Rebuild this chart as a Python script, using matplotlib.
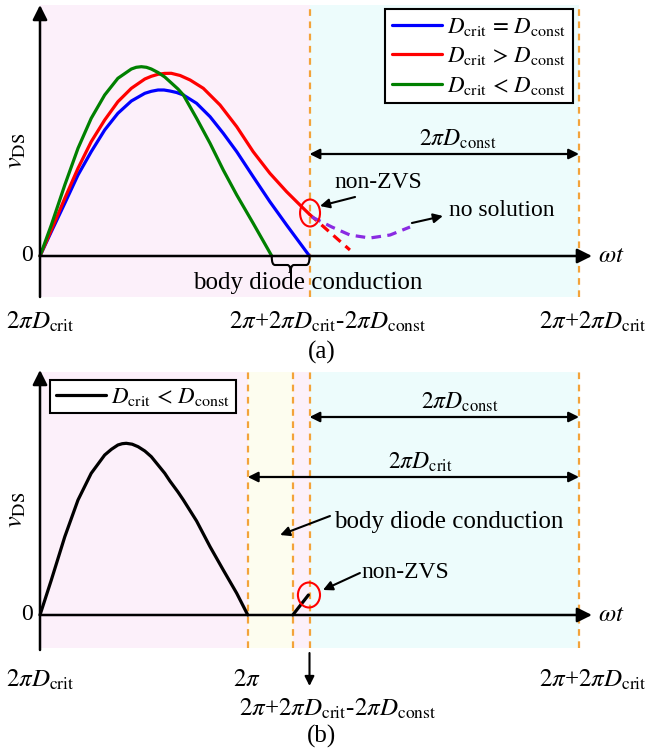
import matplotlib.pyplot as plt
import numpy as np
from matplotlib.patches import Ellipse, PathPatch
from matplotlib.path import Path

plt.rcParams['font.family'] = ['Liberation Serif', 'DejaVu Serif']
plt.rcParams['mathtext.fontset'] = 'stix'

# x: 0 = 2*pi*D_crit, 1 = 2*pi + 2*pi*D_crit - 2*pi*D_const, 2 = 2*pi + 2*pi*D_crit
# (a) three v_DS waveforms
blue_x = [0, .042, .092, .141, .190, .240, .289, .339, .389, .413, .438, .460, .482, .507, .532,
          .581, .631, .680, .730, .791, .853, .915, 1.0]
blue_y = [0, .243, .527, .81, 1.043, 1.26, 1.427, 1.55, 1.627, 1.647, 1.66, 1.66, 1.65, 1.635, 1.61,
          1.527, 1.393, 1.227, 1.043, .793, .543, .31, 0]
red_x = [0, .042, .092, .141, .190, .240, .289, .339, .389, .413, .438, .462, .487, .520, .557,
         .606, .668, .730, .791, .853, .915, .977, 1.0]
red_y = [0, .26, .577, .877, 1.143, 1.36, 1.543, 1.677, 1.77, 1.797, 1.817, 1.826, 1.827, 1.805, 1.76,
         1.677, 1.51, 1.293, 1.043, .827, .643, .477, .417]
green_x = [0, .042, .092, .141, .190, .240, .289, .339, .357, .376, .395, .413, .438, .463, .512,
           .532, .581, .631, .680, .730, .791, .860]
green_y = [0, .31, .71, 1.077, 1.377, 1.61, 1.777, 1.87, 1.887, 1.893, 1.887, 1.87, 1.835, 1.79, 1.67,
           1.61, 1.377, 1.127, .86, .61, .327, 0]
red_dash_x = [1.0, 1.15]
red_dash_y = [.417, .06]
purple_x = [1.009, 1.083, 1.150, 1.224, 1.299, 1.373]
purple_y = [.39, .29, .21, .18, .21, .29]

# (b) waveform for D_crit < D_const
black_x = [0, .042, .092, .141, .190, .240, .265, .289, .305, .320, .342, .364, .389, .413, .463,
           .482, .512, .532, .581, .631, .680, .730, .771]
black_y = [0, .35, .783, 1.15, 1.417, 1.6, 1.657, 1.7, 1.713, 1.717, 1.708, 1.683, 1.64, 1.583, 1.417,
           1.34, 1.23, 1.15, .94, .683, .45, .217, 0]
rise_x = [.938, .996]
rise_y = [0, .2]

a_edges = [0, 1.0, 2.0]
a_colors = ['#fcf0fa', '#edfcfc']
b_edges = [0, .771, .938, 1.0, 2.0]
b_colors = ['#fcf0fa', '#fdfdef', '#fcf0fa', '#edfcfc']

W, H = 647, 749
fig = plt.figure(figsize=(W / 100, H / 100), dpi=100)
ax1 = fig.add_axes([0, 1 - 300 / H, 1, 300 / H])
ax2 = fig.add_axes([0, 0, 1, 389 / H])
ax1.set_xlim(-40 / 269.5, 607 / 269.5)
ax1.set_ylim(-0.44, 2.56)
ax2.set_xlim(-40 / 269.5, 607 / 269.5)
ax2.set_ylim(-1.34, 2.55)
for ax in (ax1, ax2):
    ax.axis('off')

orange = '#f3a33a'
arrow_kw = dict(arrowstyle='-|>', color='k', lw=1.8, mutation_scale=22, shrinkA=0, shrinkB=0)
dbl_kw = dict(arrowstyle='<|-|>', color='k', lw=1.6, mutation_scale=15, shrinkA=0, shrinkB=0)
thin_kw = dict(arrowstyle='-|>', color='k', lw=1.5, mutation_scale=14, shrinkA=0, shrinkB=0)
fs = 17


def shade(ax, edges, colors, y0, y1):
    for i, c in enumerate(colors):
        ax.fill_between([edges[i], edges[i + 1]], y0, y1, color=c, lw=0, zorder=0)
    for e in edges[1:]:
        ax.plot([e, e], [y0, y1], color=orange, lw=1.6, ls=(0, (3, 2.5)), zorder=1)


def axes_arrows(ax, ybot, ytop):
    ax.annotate('', xy=(0, ytop), xytext=(0, ybot), arrowprops=arrow_kw, zorder=5)
    ax.annotate('', xy=(2.048, 0), xytext=(0, 0), arrowprops=arrow_kw, zorder=5)
    ax.text(-0.025, 0, '0', fontsize=fs, ha='right', va='center')
    ax.text(2.07, 0, r'$\omega t$', fontsize=fs + 1, ha='left', va='center')
    ax.text(-0.085, (ytop + ybot) / 2, r'$v_{\rm DS}$', fontsize=fs + 2, rotation=90,
            ha='center', va='center')


line_kw = dict(lw=2.3, zorder=3, solid_joinstyle='round', solid_capstyle='round')
leg_kw = dict(fancybox=False, edgecolor='k', framealpha=1, fontsize=16.5, handlelength=2.2,
              handletextpad=0.2, borderaxespad=0)

# ---------------- (a) ----------------
shade(ax1, a_edges, a_colors, -0.41, 2.51)
l1, = ax1.plot(blue_x, blue_y, color='#0000ff', label=r'$D_{\rm crit}\,=\,D_{\rm const}$', **line_kw)
l2, = ax1.plot(red_x, red_y, color='#ff0000', label=r'$D_{\rm crit}\,>\,D_{\rm const}$', **line_kw)
l3, = ax1.plot(green_x, green_y, color='#008000', label=r'$D_{\rm crit}\,<\,D_{\rm const}$', **line_kw)
ax1.plot(red_dash_x, red_dash_y, color='#ff0000', lw=2.3, ls=(0, (3, 2)), zorder=3)
ax1.plot(purple_x, purple_y, color='#8a2be2', lw=2.3, ls=(0, (3, 2)), zorder=3)
axes_arrows(ax1, -0.41, 2.51)

leg = ax1.legend(handles=[l1, l2, l3], loc='upper right', bbox_to_anchor=(573 / W, 1 - 9 / 300),
                 borderpad=0.3, labelspacing=0.32, **leg_kw)
leg.get_frame().set_linewidth(1.5)

ax1.annotate('', xy=(2.0, 1.02), xytext=(1.0, 1.02), arrowprops=dbl_kw)
ax1.text(1.551, 1.17, r'$2\pi D_{\rm const}$', fontsize=fs, ha='center', va='center')

ax1.add_patch(Ellipse((1.002, 0.43), 0.074, 0.27, fill=False, ec='#ff0000', lw=1.5, zorder=4))
ax1.text(1.254, 0.74, 'non-ZVS', fontsize=fs, ha='center', va='center')
ax1.annotate('', xy=(1.039, 0.50), xytext=(1.169, 0.59), arrowprops=thin_kw)
ax1.text(1.518, 0.46, 'no solution', fontsize=fs, ha='left', va='center')
ax1.annotate('', xy=(1.495, 0.40), xytext=(1.380, 0.33), arrowprops=thin_kw)

# curly brace under the body-diode interval
x0, x1, yb, hb = green_x[-1], 1.0, -0.01, 0.16
xm, q = (x0 + x1) / 2, 0.012
verts = [(x0, yb), (x0, yb - hb / 2), (x0 + q, yb - hb / 2), (xm - q, yb - hb / 2),
         (xm, yb - hb / 2), (xm, yb - hb), (xm, yb - hb / 2), (xm + q, yb - hb / 2),
         (x1 - q, yb - hb / 2), (x1, yb - hb / 2), (x1, yb)]
codes = [Path.MOVETO, Path.CURVE3, Path.CURVE3, Path.LINETO, Path.CURVE3, Path.CURVE3,
         Path.CURVE3, Path.CURVE3, Path.LINETO, Path.CURVE3, Path.CURVE3]
ax1.add_patch(PathPatch(Path(verts, codes), fill=False, lw=1.5, ec='k', zorder=4))
ax1.text(0.994, -0.27, 'body diode conduction', fontsize=18, ha='center', va='center')

ax1.text(0.0, -0.66, r'$2\pi D_{\rm crit}$', fontsize=fs + 1, ha='center', va='center')
ax1.text(1.069, -0.66, r'$2\pi$+$2\pi D_{\rm crit}$-$2\pi D_{\rm const}$', fontsize=fs + 1,
         ha='center', va='center')
ax1.text(2.05, -0.66, r'$2\pi$+$2\pi D_{\rm crit}$', fontsize=fs + 1, ha='center', va='center')
ax1.text(1.046, -0.96, '(a)', fontsize=fs + 1, ha='center', va='center')

# ---------------- (b) ----------------
shade(ax2, b_edges, b_colors, -0.33, 2.43)
lb, = ax2.plot(black_x, black_y, color='k', label=r'$D_{\rm crit}\,<\,D_{\rm const}$', **line_kw)
ax2.plot(rise_x, rise_y, color='k', lw=2.3, zorder=3, solid_capstyle='round')
axes_arrows(ax2, -0.35, 2.45)

leg2 = ax2.legend(handles=[lb], loc='upper left', bbox_to_anchor=(50 / W, 1 - 20 / 389),
                  borderpad=0.25, **leg_kw)
leg2.get_frame().set_linewidth(1.5)

ax2.annotate('', xy=(2.0, 1.98), xytext=(1.0, 1.98), arrowprops=dbl_kw)
ax2.text(1.558, 2.13, r'$2\pi D_{\rm const}$', fontsize=fs, ha='center', va='center')
ax2.annotate('', xy=(2.0, 1.38), xytext=(b_edges[1], 1.38), arrowprops=dbl_kw)
ax2.text(1.41, 1.53, r'$2\pi D_{\rm crit}$', fontsize=fs, ha='center', va='center')

ax2.text(1.518, 0.93, 'body diode conduction', fontsize=18, ha='center', va='center')
ax2.annotate('', xy=(0.891, 0.80), xytext=(1.076, 0.99), arrowprops=thin_kw)
ax2.add_patch(Ellipse((0.998, 0.20), 0.082, 0.25, fill=False, ec='#ff0000', lw=1.5, zorder=4))
ax2.text(1.354, 0.43, 'non-ZVS', fontsize=fs, ha='center', va='center')
ax2.annotate('', xy=(1.050, 0.25), xytext=(1.187, 0.42), arrowprops=thin_kw)

ax2.text(0.0, -0.65, r'$2\pi D_{\rm crit}$', fontsize=fs + 1, ha='center', va='center')
ax2.text(0.768, -0.65, r'$2\pi$', fontsize=fs + 1, ha='center', va='center')
ax2.annotate('', xy=(1.0, -0.71), xytext=(1.0, -0.38), arrowprops=thin_kw)
ax2.text(1.106, -0.94, r'$2\pi$+$2\pi D_{\rm crit}$-$2\pi D_{\rm const}$', fontsize=fs + 1,
         ha='center', va='center')
ax2.text(2.05, -0.65, r'$2\pi$+$2\pi D_{\rm crit}$', fontsize=fs + 1, ha='center', va='center')
ax2.text(1.046, -1.215, '(b)', fontsize=fs + 1, ha='center', va='center')

fig.savefig('out.png', dpi=100, facecolor='white')
